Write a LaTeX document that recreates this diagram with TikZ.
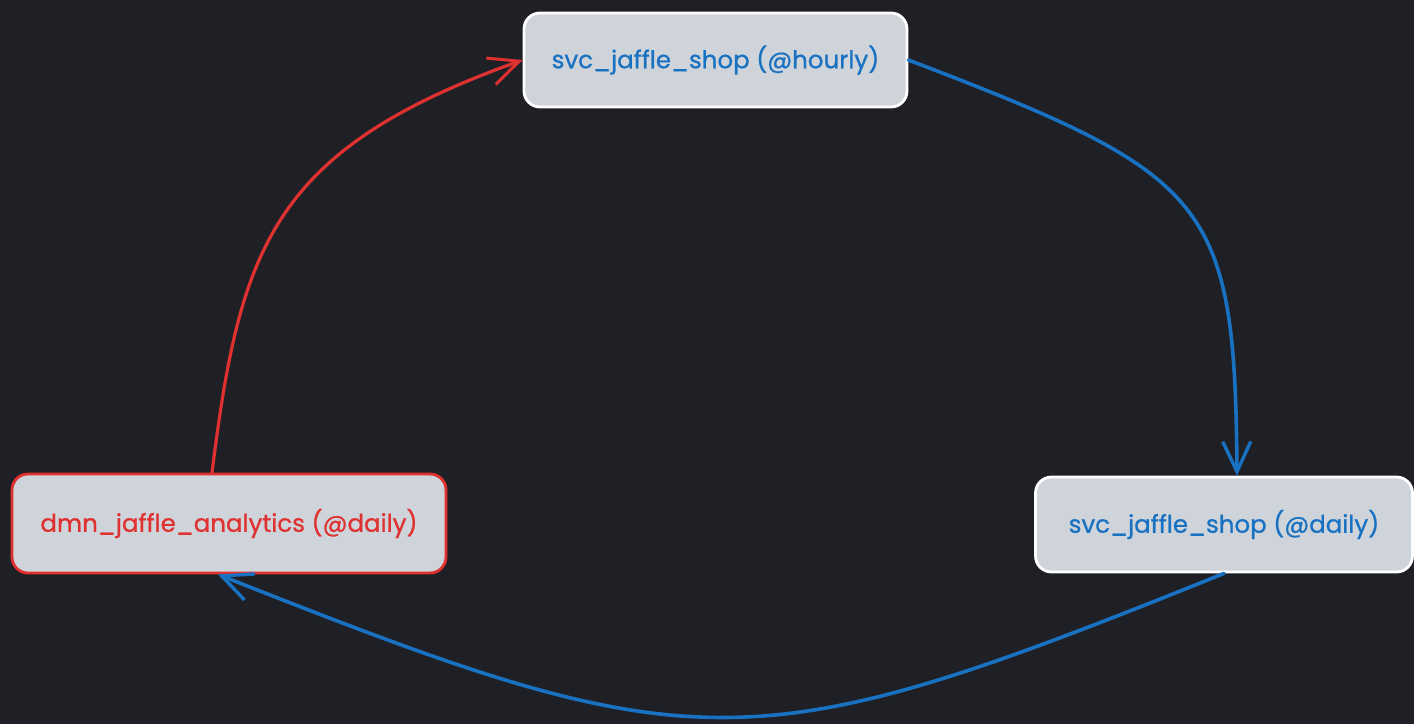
\documentclass[tikz,border=0pt]{standalone}
\usepackage{fontspec}
\setmainfont{Poppins}[FakeBold=0.8]
\usetikzlibrary{arrows.meta,calc}
\definecolor{bgdark}{HTML}{1F2026}
\definecolor{boxfill}{HTML}{CED4DA}
\definecolor{flowblue}{HTML}{1971C2}
\definecolor{flowred}{HTML}{E03131}
\tikzset{
  jobbox/.style={draw=white, fill=boxfill, line width=2.8pt, rounded corners=16pt,
    inner sep=0pt, font=\fontsize{24.5}{28}\selectfont, text=flowblue},
  redbox/.style={jobbox, draw=flowred, text=flowred},
  flow/.style={line width=3.6pt, line cap=round,
    -{Straight Barb[length=30pt,width=28pt,line width=3.4pt]}},
  blueflow/.style={flow, draw=flowblue},
  redflow/.style={flow, draw=flowred, line width=3.2pt,
    -{Straight Barb[length=30pt,width=28pt,line width=3pt]}}
}
\begin{document}
\begin{tikzpicture}[x=1pt,y=-1pt]
  \fill[bgdark] (0,0) rectangle (1414,724);
  \useasboundingbox (0,0) rectangle (1414,724);

  % the three scheduled jobs
  \node[jobbox, minimum width=383pt, minimum height=94pt] (hourly) at (715.5,60) {svc\_jaffle\_shop (@hourly)};
  \node[redbox, minimum width=434pt, minimum height=99pt] (analytics) at (229,523.5) {dmn\_jaffle\_analytics (@daily)};
  \node[jobbox, minimum width=377pt, minimum height=95pt] (daily) at (1224,524.5) {svc\_jaffle\_shop (@daily)};

  % dependency flow
  \draw[blueflow] (hourly.east) .. controls (1210,175) and (1235,200) .. ($(daily.north)+(13,0)$);
  \draw[blueflow] (daily.south) .. controls (749,765) and (699,765) .. ($(analytics.south)+(-11,0)$);
  \draw[redflow] ($(analytics.north)+(-17,0)$) .. controls (240,250) and (270,150) .. (hourly.west);
\end{tikzpicture}
\end{document}
